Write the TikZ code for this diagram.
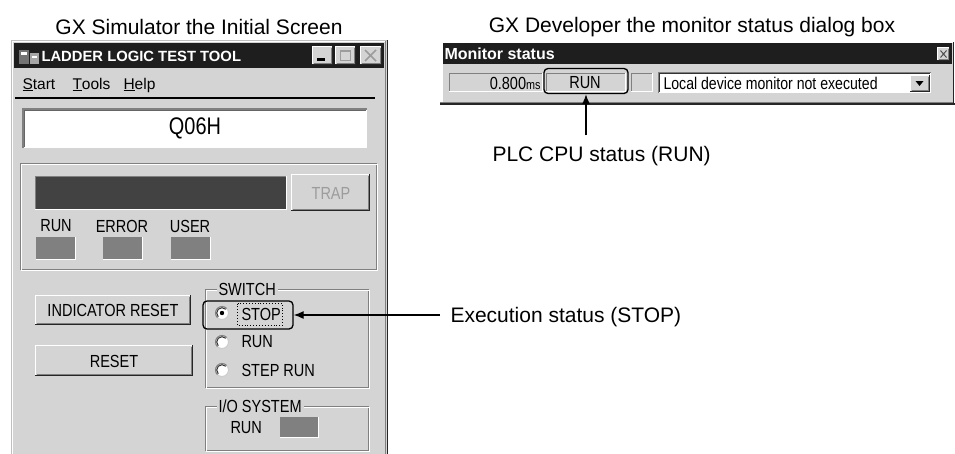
\documentclass[tikz,border=0pt]{standalone}
\usepackage{fontspec}
\setmainfont{Liberation Sans}
\newfontfamily\uifont{Liberation Sans}[FakeStretch=0.83]
\usetikzlibrary{arrows.meta}
\definecolor{winbg}{HTML}{D4D4D4}
\definecolor{titlebg}{HTML}{1E1E1E}
\definecolor{darkbar}{HTML}{424242}
\definecolor{lampc}{HTML}{808080}
\definecolor{shadowc}{HTML}{808080}
\definecolor{dimtext}{HTML}{9C9C9C}
\newcommand\uiRaised[4]{%
  \fill[winbg] (#1,#2) rectangle (#3,#4);
  \draw[white] (#1+0.5,#4-1) -- (#1+0.5,#2+0.5) -- (#3-1,#2+0.5);
  \draw[shadowc] (#1+1.5,#4-1.5) -- (#3-1.5,#4-1.5) -- (#3-1.5,#2+1.5);
  \draw[black!85] (#1,#4-0.5) -- (#3-0.5,#4-0.5) -- (#3-0.5,#2);
}
\newcommand\uiSunken[4]{%
  \draw[shadowc] (#1+0.5,#4) -- (#1+0.5,#2+0.5) -- (#3,#2+0.5);
  \draw[white] (#1,#4-0.5) -- (#3-0.5,#4-0.5) -- (#3-0.5,#2);
}
\newcommand\uiEtched[4]{%
  \draw[shadowc] (#1+0.5,#2+0.5) rectangle (#3-1.5,#4-1.5);
  \draw[white] (#1+1.5,#2+1.5) rectangle (#3-0.5,#4-0.5);
}
\newcommand\uiRadio[2]{%
  \fill[white] (#1,#2) circle[radius=6.5];
  \draw[black!20] (#1,#2) circle[radius=6.5];
  \draw[shadowc] (#1,#2) ++(135:6.5) arc[start angle=135,end angle=315,radius=6.5];
  \draw[black!80] (#1,#2) ++(135:5.3) arc[start angle=135,end angle=315,radius=5.3];
}
\newcommand\uiLamp[4]{%
  \fill[lampc] (#1,#2) rectangle (#3,#4);
  \draw[white] (#1,#4-0.5) -- (#3-0.5,#4-0.5) -- (#3-0.5,#2);
}
\begin{document}
\begin{tikzpicture}[x=1pt,y=-1pt,line width=1pt,
  ttl/.style={font=\fontsize{21}{25}\selectfont,inner sep=0pt},
  ui/.style={font=\uifont\fontsize{17.5}{20}\selectfont,inner sep=0pt},
  menu/.style={font=\fontsize{15.5}{18}\selectfont,inner sep=0pt,anchor=base west},
  wintitle/.style={font=\bfseries\fontsize{14.8}{17}\selectfont,text=white,inner sep=0pt,anchor=west},
  hl/.style={draw=black,rounded corners=4pt,line width=1.3pt,inner sep=0pt},
  conn/.style={line width=1.3pt,-{Latex[length=10pt,width=8pt]}},
  grouplabel/.style={ui,fill=winbg,inner xsep=2pt,inner ysep=0pt,anchor=west}]
\useasboundingbox (0,0) rectangle (955,453);
\fill[white] (0,0) rectangle (955,453);
\clip (0,0) rectangle (955,453);

% ---------- captions ----------
\node[ttl] (cap1) at (199,27) {GX Simulator the Initial Screen};
\node[ttl] (cap2) at (692,27) {GX Developer the monitor status dialog box};

% ---------- left window ----------
\fill[winbg] (11,40) rectangle (388,460);
\draw[black!25] (11.5,460) -- (11.5,40.5) -- (388,40.5);
\draw[white] (12.5,460) -- (12.5,41.5) -- (386,41.5);
\draw[shadowc] (385.5,41) -- (385.5,460);
\draw[black!85,line width=1.5pt] (387.5,40) -- (387.5,460);
\fill[titlebg] (14,43) rectangle (384,68);
% icon
\fill[black!55] (19,50) rectangle (29,64);
\fill[white] (21,52) rectangle (27,55);
\fill[black!35] (30,53) rectangle (39,64);
\fill[white] (32,56) rectangle (37,58);
\node[wintitle] (wtitle) at (41,56) {LADDER LOGIC TEST TOOL};
% title buttons
\uiRaised{312}{46}{333}{65}
\fill[black] (317,58) rectangle (325,60.5);
\uiRaised{335}{46}{356}{65}
\draw[dimtext,line width=1pt] (340.5,50.5) rectangle (350.5,60.5);
\draw[dimtext,line width=1pt] (340.5,51.5) -- (350.5,51.5);
\uiRaised{360}{46}{382}{65}
\draw[dimtext,line width=1.5pt] (365,50) -- (376,61) (376,50) -- (365,61);
% menu
\node[menu] (mStart) at (22,89) {\underline{S}tart};
\node[menu] (mTools) at (72,89) {\underline{T}ools};
\node[menu] (mHelp) at (123,89) {\underline{H}elp};
\draw[black,line width=2.2pt] (15,98) -- (375,98);
% model box
\fill[white] (22,108) rectangle (367,148);
\draw[shadowc,line width=1.5pt] (22.75,148) -- (22.75,108.75) -- (367,108.75);
\draw[black!60] (24.5,147) -- (24.5,110.5) -- (366,110.5);
\node[ui,font=\uifont\fontsize{24}{27}\selectfont] (model) at (195,128) {Q06H};
% display group
\uiEtched{20}{163}{378}{271}
\fill[darkbar] (35,176) rectangle (287,210);
\uiSunken{35}{176}{287}{210}
\uiRaised{291}{174}{370}{211}
\node[ui,text=dimtext] (trap) at (331,193) {TRAP};
\node[ui] (lRun) at (56,226) {RUN};
\node[ui] (lErr) at (122,226) {ERROR};
\node[ui] (lUser) at (190,226) {USER};
\uiLamp{36}{237}{76}{260}
\uiLamp{103}{237}{143}{260}
\uiLamp{171}{237}{211}{260}
% buttons
\uiRaised{35}{295}{191}{325}
\node[ui] (bInd) at (113,310) {INDICATOR RESET};
\uiRaised{35}{345}{193}{376}
\node[ui] (bReset) at (114,361) {RESET};
% switch group
\uiEtched{205}{289}{370}{389}
\node[grouplabel] (gSwitch) at (216,289) {SWITCH};
\uiRadio{222}{313}
\fill[black] (222,313) circle[radius=2.2];
\uiRadio{222}{342}
\uiRadio{222}{370}
\node[ui,anchor=west] (rStop) at (241,314) {STOP};
\node[ui,anchor=west] (rRun) at (241,342) {RUN};
\node[ui,anchor=west] (rStep) at (241,370) {STEP RUN};
\draw[black,dotted,line width=0.9pt] (237.5,303.5) rectangle (282.5,325.5);
\node[hl,minimum width=90pt,minimum height=28pt] (stopbox) at (248,315) {};
% I/O group
\uiEtched{205}{406}{370}{452}
\node[grouplabel] (gIO) at (216,406) {I/O SYSTEM};
\node[ui,anchor=west] (ioRun) at (230,428) {RUN};
\uiLamp{280}{417}{319}{438}

% ---------- right window ----------
\fill[winbg] (442,42) rectangle (953,104);
\draw[white] (442.5,104) -- (442.5,42.5) -- (953,42.5);
\fill[titlebg] (443,43) rectangle (952,64);
\node[wintitle,font=\bfseries\fontsize{16}{19}\selectfont] (mtitle) at (444,54) {Monitor status};
\uiRaised{937}{47}{950}{61}
\draw[black!70,line width=1pt] (940.5,50.5) -- (946.5,57.5) (946.5,50.5) -- (940.5,57.5);
\draw[black!85,line width=2pt] (440,104) -- (955,104);
\draw[shadowc] (440,102) -- (953,102);
\draw[black!85,line width=1.5pt] (953.25,42) -- (953.25,104);
% fields
\uiSunken{449}{73}{543}{92}
\node[ui,anchor=east] (ftime) at (541,83) {0.800{\fontsize{13}{14}\selectfont ms}};
\uiSunken{546}{73}{626}{92}
\node[ui] (fRun) at (585,83) {RUN};
\uiSunken{631}{73}{653}{92}
\fill[white] (658,72) rectangle (931,93);
\draw[shadowc] (658.5,93) -- (658.5,72.5) -- (931,72.5);
\draw[black!80] (659.5,92) -- (659.5,73.5) -- (930,73.5);
\uiRaised{910}{75}{930}{92}
\fill[black] (915.5,81) -- (923.5,81) -- (919.5,86) -- cycle;
\node[ui,anchor=west,font=\uifont\fontsize{17}{19}\selectfont] (fLocal) at (663,83) {Local device monitor not executed};
\node[hl,minimum width=84pt,minimum height=25pt] (runbox) at (586,81) {};

% ---------- callouts ----------
\node[ttl,anchor=base west] (plc) at (492,161) {PLC CPU status (RUN)};
\coordinate (plcTop) at ([yshift=10pt]plc.north);
\draw[conn] (plcTop -| runbox.south) -- (runbox.south);
\node[ttl,anchor=base west] (exec) at (450,322.5) {Execution status (STOP)};
\coordinate (execL) at ([xshift=-10pt]exec.west);
\draw[conn] (execL |- stopbox.east) -- (stopbox.east);
\end{tikzpicture}
\end{document}
